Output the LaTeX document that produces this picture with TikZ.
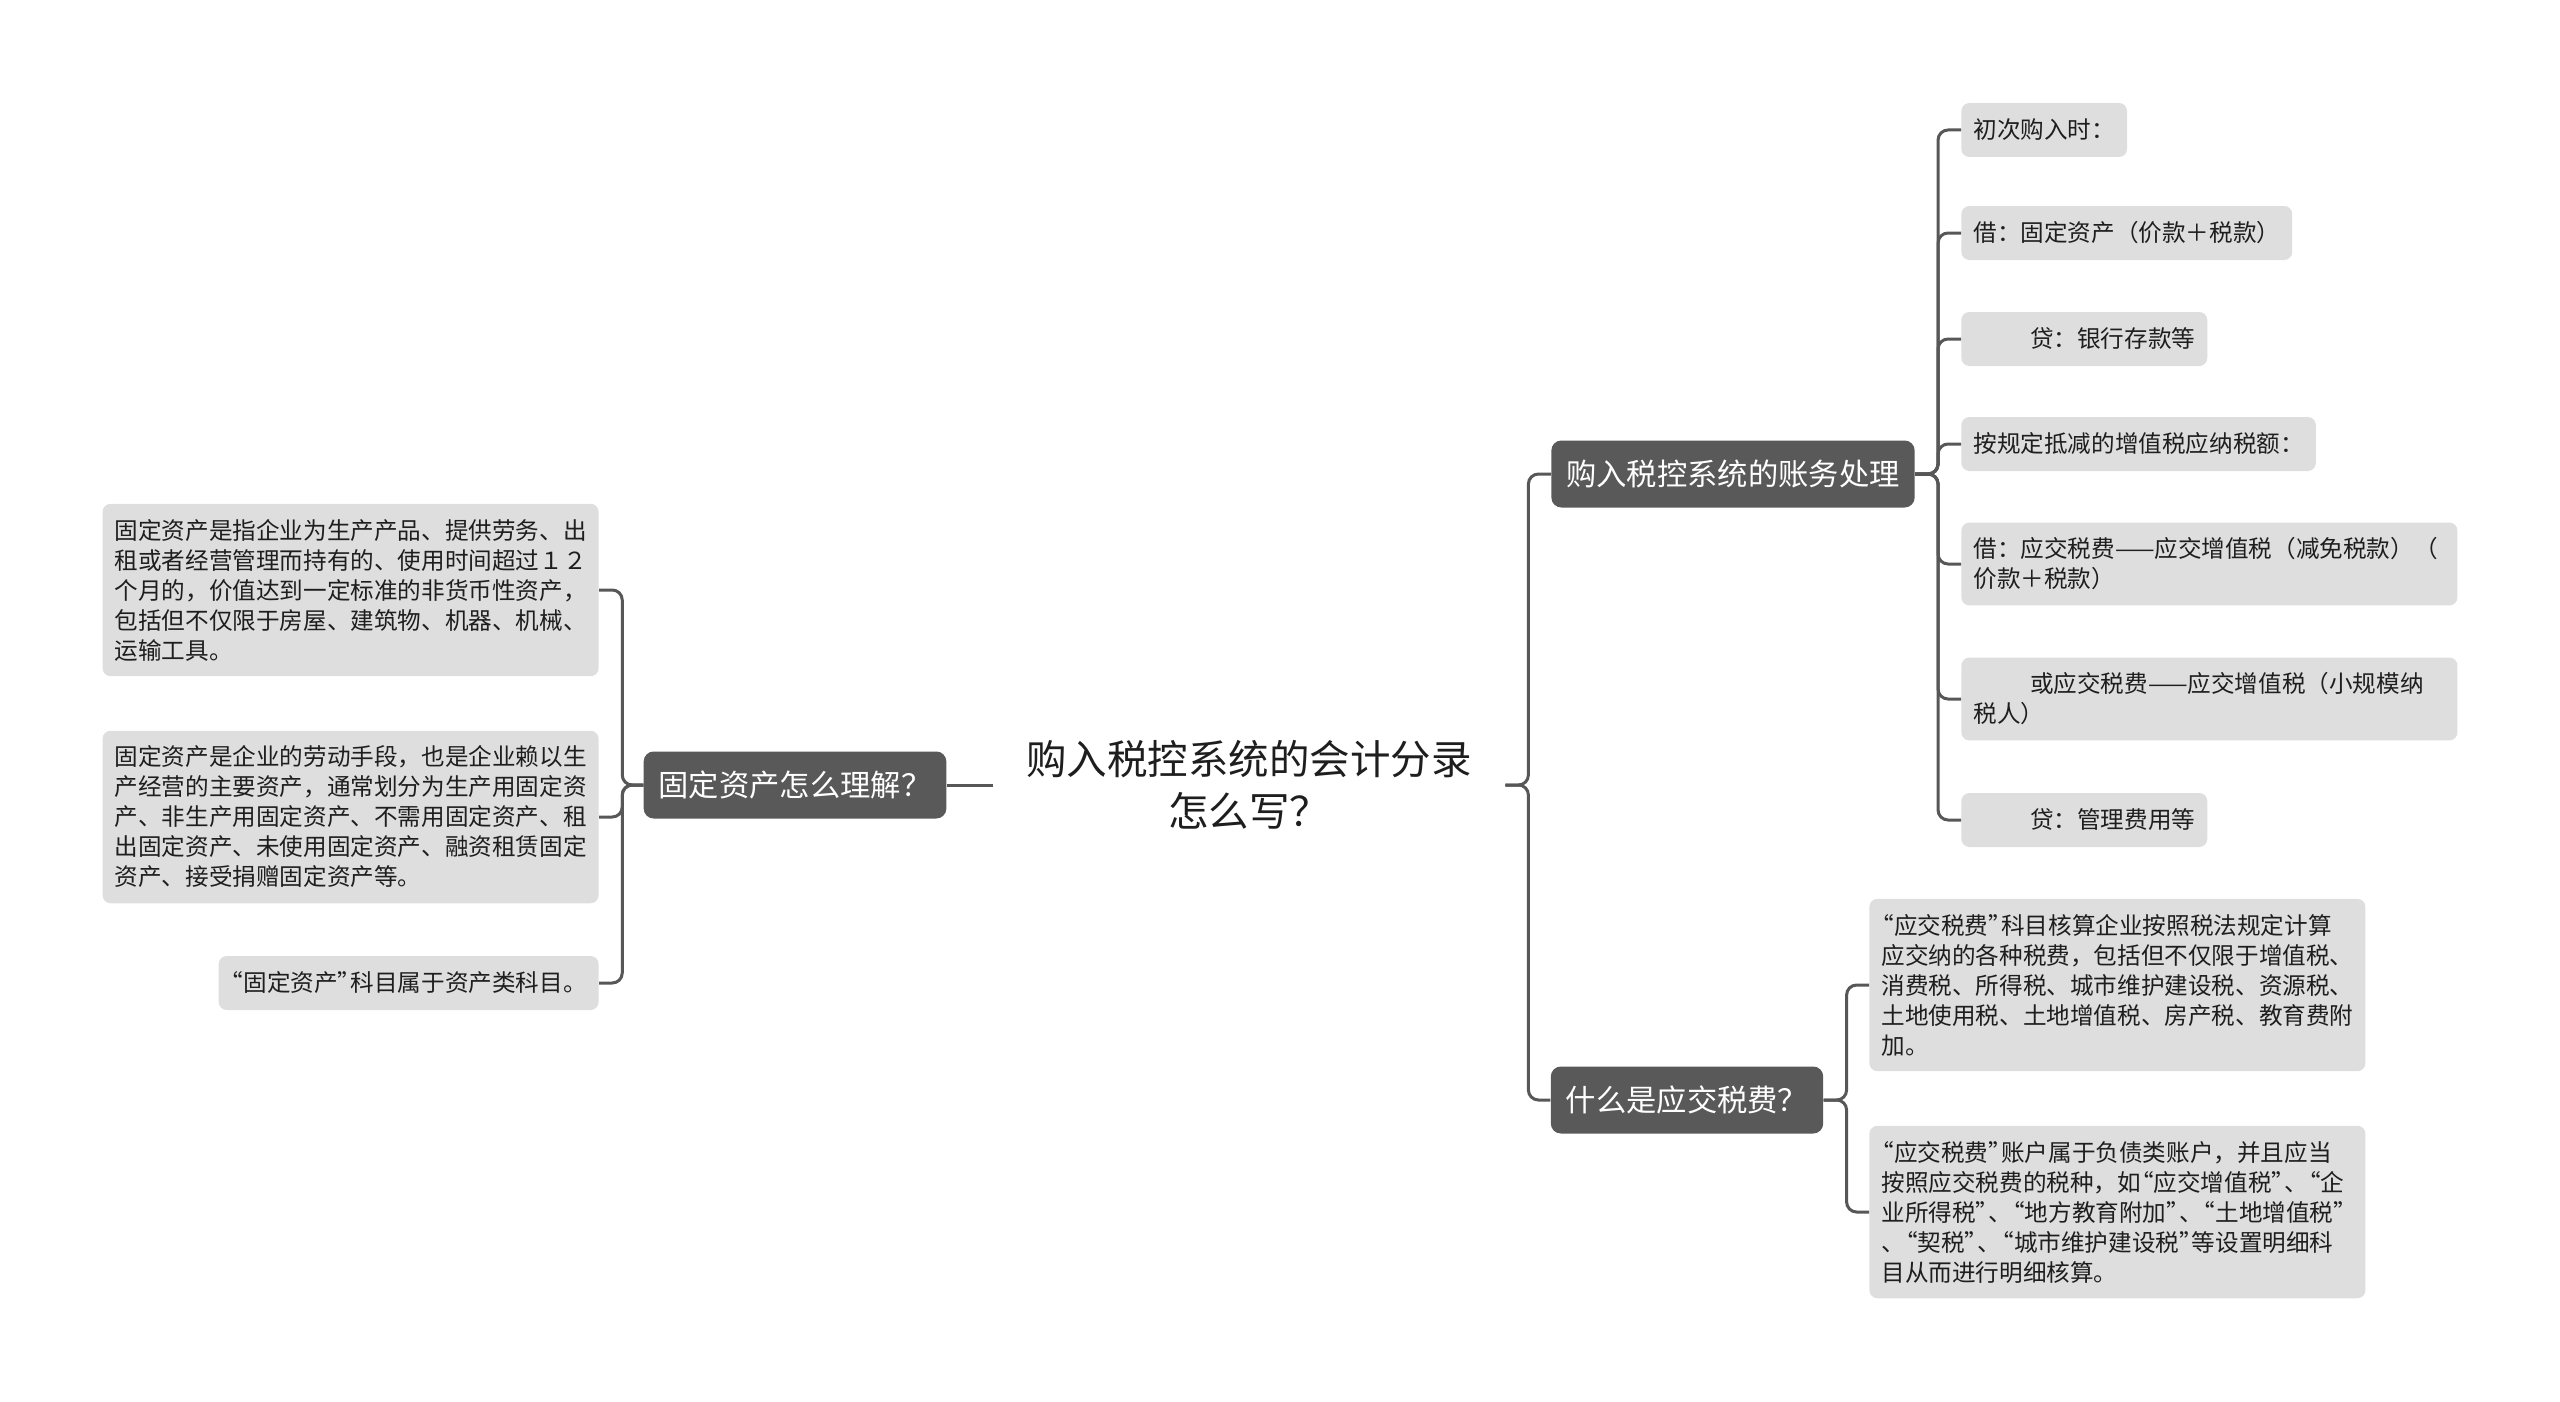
\documentclass[tikz,border=0pt]{standalone}
\usepackage{fontspec}
\setmainfont{Noto Sans CJK SC}
\definecolor{leafgray}{HTML}{DEDEDE}
\definecolor{darkbox}{HTML}{595959}
\definecolor{wire}{HTML}{575757}
\definecolor{ink}{HTML}{1E1E1E}
% narrow quote marks, as the original prints them
\newcommand{\oq}{\makebox[0.54em][r]{“}}
\newcommand{\cq}{\makebox[0.54em][l]{”}}

\begin{document}
\begin{tikzpicture}[x=0.5pt, y=-0.5pt,
        root/.style={align=center, minimum width=256pt, text=ink, font=\fontsize{20.25pt}{26pt}\selectfont},
        branch/.style={rectangle, rounded corners=5pt, fill=darkbox, text=white, minimum height=33.5pt, inner xsep=7.5pt, font=\fontsize{15.15pt}{18pt}\selectfont},
        leaf/.style={rectangle, rounded corners=4pt, fill=leafgray, text=ink, minimum height=27pt, inner xsep=6pt, inner ysep=7.6pt, align=left, font=\fontsize{11.8pt}{15pt}\selectfont},
        link/.style={draw=wire, line width=1.5pt, rounded corners=5pt}
    ]
        \useasboundingbox (0,0) rectangle (2560,1402);

        \node[root] (root) at (1249, 785) {购入税控系统的会计分录\\怎么写？};

        \node[branch] (fixed) at (795, 785) {固定资产怎么理解？};
        \node[branch] (acct) at (1733, 474) {购入税控系统的账务处理};
        \node[branch] (tax) at (1687, 1100) {什么是应交税费？};

        \node[leaf, text width=236pt, anchor=east] (fa1) at (599, 590) {固定资产是指企业为生产产品、提供劳务、出\\租或者经营管理而持有的、使用时间超过１２\\个月的，价值达到一定标准的非货币性资产，\\包括但不仅限于房屋、建筑物、机器、机械、\\运输工具。};
        \node[leaf, text width=236pt, anchor=east] (fa2) at (599, 817) {固定资产是企业的劳动手段，也是企业赖以生\\产经营的主要资产，通常划分为生产用固定资\\产、非生产用固定资产、不需用固定资产、租\\出固定资产、未使用固定资产、融资租赁固定\\资产、接受捐赠固定资产等。};
        \node[leaf, anchor=east] (fa3) at (599, 983) {\oq 固定资产\cq 科目属于资产类科目。};

        \node[leaf, anchor=west] (e1) at (1961, 130) {初次购入时：};
        \node[leaf, anchor=west] (e2) at (1961, 233) {借：固定资产（价款＋税款）};
        \node[leaf, anchor=west] (e3) at (1961, 339) {\hspace*{2.4em}贷：银行存款等};
        \node[leaf, anchor=west] (e4) at (1961, 444) {按规定抵减的增值税应纳税额：};
        \node[leaf, text width=236pt, anchor=west] (e5) at (1961, 564) {借：应交税费——应交增值税（减免税款）（\\价款＋税款）};
        \node[leaf, text width=236pt, anchor=west] (e6) at (1961, 699) {\hspace*{2.4em}或应交税费——应交增值税（小规模纳\\税人）};
        \node[leaf, anchor=west] (e7) at (1961, 820) {\hspace*{2.4em}贷：管理费用等};

        \node[leaf, text width=236pt, anchor=west] (t1) at (1869, 985) {\oq 应交税费\cq 科目核算企业按照税法规定计算\\应交纳的各种税费，包括但不仅限于增值税、\\消费税、所得税、城市维护建设税、资源税、\\土地使用税、土地增值税、房产税、教育费附\\加。};
        \node[leaf, text width=236pt, anchor=west] (t2) at (1869, 1212) {\oq 应交税费\cq 账户属于负债类账户，并且应当\\按照应交税费的税种，如\oq 应交增值税\cq 、\oq 企\\业所得税\cq 、\oq 地方教育附加\cq 、\oq 土地增值税\cq\\、\oq 契税\cq 、\oq 城市维护建设税\cq 等设置明细科\\目从而进行明细核算。};

        \draw[link] (root.west) -- (fixed.east);
        \draw[link] (fixed.west) -- ++(-21,0) |- (fa1.east);
        \draw[link] (fixed.west) -- ++(-21,0) |- (fa2.east);
        \draw[link] (fixed.west) -- ++(-21,0) |- (fa3.east);

        \draw[link] (root.east) -- ++(23,0) |- (acct.west);
        \draw[link] (root.east) -- ++(23,0) |- (tax.west);

        \draw[link] (acct.east) -- ++(23,0) |- (e1.west);
        \draw[link] (acct.east) -- ++(23,0) |- (e2.west);
        \draw[link] (acct.east) -- ++(23,0) |- (e3.west);
        \draw[link] (acct.east) -- ++(23,0) |- (e4.west);
        \draw[link] (acct.east) -- ++(23,0) |- (e5.west);
        \draw[link] (acct.east) -- ++(23,0) |- (e6.west);
        \draw[link] (acct.east) -- ++(23,0) |- (e7.west);

        \draw[link] (tax.east) -- ++(23,0) |- (t1.west);
        \draw[link] (tax.east) -- ++(23,0) |- (t2.west);
    \end{tikzpicture}
\end{document}
